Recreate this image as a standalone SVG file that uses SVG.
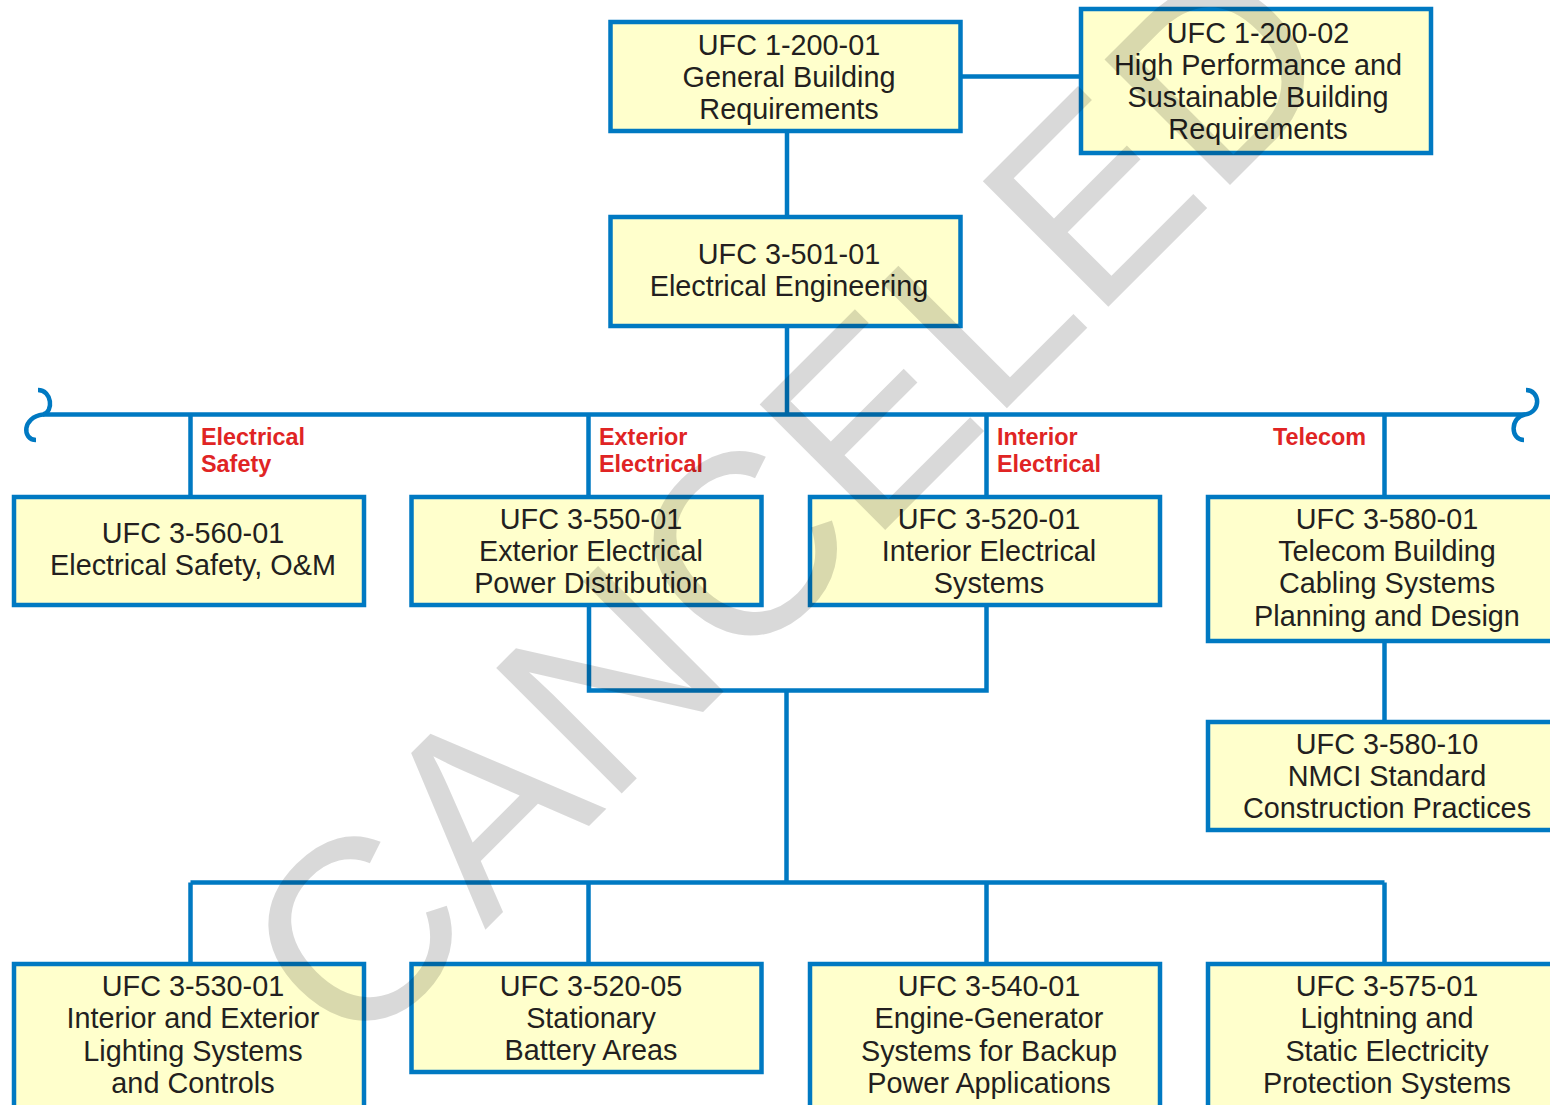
<svg xmlns="http://www.w3.org/2000/svg" width="1550" height="1105" viewBox="0 0 1550 1105">
<style>
.box{fill:#ffffcc;stroke:#0079c2;stroke-width:4.5}
.t{font-family:"Liberation Sans",Arial,sans-serif;font-size:28.8px;fill:#231f20;text-anchor:middle}
.lbl{font-family:"Liberation Sans",Arial,sans-serif;font-size:23.4px;font-weight:bold;fill:#e02424}
.c{fill:none;stroke:#0079c2;stroke-width:4.5}
.wm{font-family:"Liberation Sans",Arial,sans-serif;font-size:258px;fill:#000;fill-opacity:0.15;text-anchor:middle}
</style>
<rect width="1550" height="1105" fill="#fff"/>
<g id="connectors">
<path class="c" d="M961 76.5H1081M787 131V217M787 326V414.5M43 414.5H1525"/>
<path class="c" d="M38 390C52 390 54 412 43 414.5C22 417 22 440 36 440"/>
<path class="c" d="M1526 390C1540 390 1542 412 1525 414.5C1510 417 1510 440 1524 440"/>
<path class="c" d="M190.5 414.5V497M588.5 414.5V497M986.5 414.5V497M1384.5 414.5V497"/>
<path class="c" d="M589 605V690.5H986.5V605M786.5 690.5V882.5M190.5 882.5H1384.5M190.5 882.5V964M588.5 882.5V964M986.5 882.5V964M1384.5 882.5V964"/>
<path class="c" d="M1384.5 641V722"/>
</g>
<g id="labels">
<text class="lbl" x="201" y="445">Electrical</text><text class="lbl" x="201" y="472">Safety</text>
<text class="lbl" x="599" y="445">Exterior</text><text class="lbl" x="599" y="472">Electrical</text>
<text class="lbl" x="997" y="445">Interior</text><text class="lbl" x="997" y="472">Electrical</text>
<text class="lbl" x="1273" y="445">Telecom</text>
</g>
<g id="n-1-200-01"><rect class="box" x="610.5" y="22" width="350" height="109"/>
<text class="t" x="789" y="55">UFC 1-200-01</text><text class="t" x="789" y="87">General Building</text><text class="t" x="789" y="119">Requirements</text></g>
<g id="n-1-200-02"><rect class="box" x="1081" y="9" width="350" height="144"/>
<text class="t" x="1258" y="43">UFC 1-200-02</text><text class="t" x="1258" y="75">High Performance and</text><text class="t" x="1258" y="107">Sustainable Building</text><text class="t" x="1258" y="139">Requirements</text></g>
<g id="n-3-501-01"><rect class="box" x="610.5" y="217" width="350" height="109"/>
<text class="t" x="789" y="264">UFC 3-501-01</text><text class="t" x="789" y="296">Electrical Engineering</text></g>
<g id="n-3-560-01"><rect class="box" x="14" y="497" width="350" height="108"/>
<text class="t" x="193" y="543">UFC 3-560-01</text><text class="t" x="193" y="575">Electrical Safety, O&amp;M</text></g>
<g id="n-3-550-01"><rect class="box" x="411.5" y="497" width="350" height="108"/>
<text class="t" x="591" y="529">UFC 3-550-01</text><text class="t" x="591" y="561">Exterior Electrical</text><text class="t" x="591" y="593">Power Distribution</text></g>
<g id="n-3-520-01"><rect class="box" x="810" y="497" width="350" height="108"/>
<text class="t" x="989" y="529">UFC 3-520-01</text><text class="t" x="989" y="561">Interior Electrical</text><text class="t" x="989" y="593">Systems</text></g>
<g id="n-3-580-01"><rect class="box" x="1208" y="497" width="352" height="144"/>
<text class="t" x="1387" y="529">UFC 3-580-01</text><text class="t" x="1387" y="561">Telecom Building</text><text class="t" x="1387" y="593">Cabling Systems</text><text class="t" x="1387" y="626">Planning and Design</text></g>
<g id="n-3-580-10"><rect class="box" x="1208" y="722" width="352" height="108"/>
<text class="t" x="1387" y="754">UFC 3-580-10</text><text class="t" x="1387" y="786">NMCI Standard</text><text class="t" x="1387" y="818">Construction Practices</text></g>
<g id="n-3-530-01"><rect class="box" x="14" y="964" width="350" height="160"/>
<text class="t" x="193" y="996">UFC 3-530-01</text><text class="t" x="193" y="1028">Interior and Exterior</text><text class="t" x="193" y="1061">Lighting Systems</text><text class="t" x="193" y="1093">and Controls</text></g>
<g id="n-3-520-05"><rect class="box" x="411.5" y="964" width="350" height="108"/>
<text class="t" x="591" y="996">UFC 3-520-05</text><text class="t" x="591" y="1028">Stationary</text><text class="t" x="591" y="1060">Battery Areas</text></g>
<g id="n-3-540-01"><rect class="box" x="810" y="964" width="350" height="160"/>
<text class="t" x="989" y="996">UFC 3-540-01</text><text class="t" x="989" y="1028">Engine-Generator</text><text class="t" x="989" y="1061">Systems for Backup</text><text class="t" x="989" y="1093">Power Applications</text></g>
<g id="n-3-575-01"><rect class="box" x="1208" y="964" width="352" height="160"/>
<text class="t" x="1387" y="996">UFC 3-575-01</text><text class="t" x="1387" y="1028">Lightning and</text><text class="t" x="1387" y="1061">Static Electricity</text><text class="t" x="1387" y="1093">Protection Systems</text></g>
<g id="watermark"><text class="wm" transform="translate(785,500) rotate(-45)" y="92">CANCELED</text></g>
</svg>
